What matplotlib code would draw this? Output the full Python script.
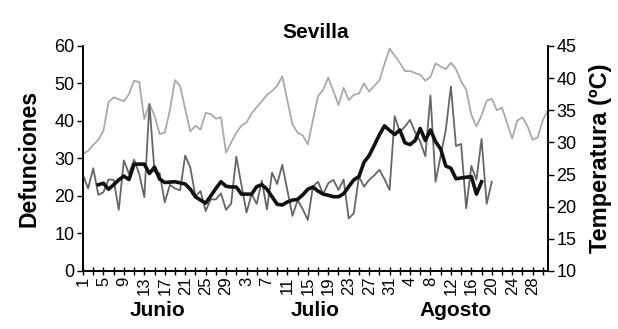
import matplotlib
matplotlib.use("Agg")
import matplotlib.pyplot as plt
import numpy as np

plt.rcParams['font.family'] = ['Liberation Sans', 'DejaVu Sans']

# dias del 1 de junio al 31 de agosto
dias_mes = [30, 31, 31]
meses = ["Junio", "Julio", "Agosto"]

# temperatura maxima diaria (ºC)
temperatura = [28.2, 28.7, 29.6, 30.4, 31.8, 36.3, 37.0, 36.7, 36.4, 37.5,
               39.6, 39.4, 33.6, 36.0, 34.2, 31.3, 31.5, 35.0, 39.7, 38.8,
               35.2, 31.7, 32.6, 32.0, 34.6, 34.4, 33.7, 33.9, 28.4, 30.0,
               31.5, 32.6, 33.1, 34.5, 35.5, 36.4, 37.4, 38.0, 38.8, 40.3,
               36.5, 32.8, 31.5, 31.1, 29.7, 33.5, 37.2, 38.2, 40.1, 38.0,
               35.8, 38.5, 36.6, 37.4, 37.6, 39.2, 37.9, 38.8, 39.6, 42.2,
               44.6, 43.5, 42.4, 41.1, 41.1, 40.8, 40.5, 39.6, 40.2, 42.3,
               41.8, 41.4, 42.4, 41.4, 39.5, 38.2, 34.3, 32.5, 34.2, 36.5,
               36.8, 35.0, 35.4, 33.0, 30.6, 33.4, 33.9, 32.5, 30.4, 30.8,
               33.5, 35.0]

# defunciones diarias (1 jun - 20 ago)
defunciones = [25.6, 22.0, 27.4, 20.3, 21.0, 24.4, 24.3, 16.3, 29.5, 25.9,
               29.7, 25.9, 19.7, 44.5, 26.4, 26.1, 18.3, 23.0, 22.0, 21.5,
               30.8, 27.6, 20.0, 21.3, 16.0, 19.1, 19.1, 20.7, 16.3, 18.0,
               30.5, 23.0, 15.6, 20.5, 17.9, 24.1, 16.4, 26.2, 23.2, 28.3,
               21.5, 14.7, 18.9, 16.5, 13.6, 22.5, 23.8, 20.5, 23.4, 24.3,
               21.6, 24.4, 14.0, 15.4, 25.2, 22.5, 24.3, 25.5, 27.0, 24.5,
               21.6, 41.3, 37.1, 38.5, 40.3, 37.0, 34.5, 30.6, 46.8, 23.8,
               30.7, 37.6, 49.2, 33.3, 33.9, 16.7, 28.0, 24.3, 35.2, 17.9,
               23.8]

# media movil de defunciones (4 jun - 18 ago)
media_inicio = 3
media_movil = [23.0, 23.4, 21.8, 23.0, 24.3, 25.3, 24.4, 28.5, 28.5, 28.5,
               26.0, 27.7, 24.5, 23.6, 23.7, 23.8, 23.5, 23.2, 21.8, 19.8,
               18.9, 18.1, 20.0, 22.0, 23.8, 22.6, 22.4, 22.4, 20.5, 20.5,
               20.5, 22.5, 23.0, 21.8, 19.8, 17.8, 17.6, 18.4, 18.9, 19.1,
               20.3, 21.8, 22.4, 21.3, 20.5, 20.2, 19.8, 19.8, 20.6, 22.5,
               24.3, 25.2, 29.0, 30.8, 33.5, 36.3, 38.7, 37.5, 36.4, 37.6,
               34.2, 33.7, 34.8, 38.0, 34.8, 37.6, 34.5, 32.5, 28.0, 27.4,
               24.6, 24.8, 25.0, 25.2, 20.5, 23.8]

# etiquetas del eje x: dia del mes
dia_num = []
for n in dias_mes:
    dia_num += list(range(1, n + 1))
x_t = np.arange(len(temperatura))
x_d = np.arange(len(defunciones))
x_m = np.arange(media_inicio, media_inicio + len(media_movil))

fig = plt.figure(figsize=(6.18, 3.29), dpi=100)
ax1 = fig.add_axes([0.1343, 0.1763, 0.7524, 0.6839])
ax2 = ax1.twinx()
ax1.set_zorder(ax2.get_zorder() + 1)
ax1.patch.set_visible(False)

ax2.plot(x_t, temperatura, color='#aaaaaa', lw=1.3)
ax1.plot(x_d, defunciones, color='#666666', lw=1.3)
ax1.plot(x_m, media_movil, color='#111111', lw=2.6)

ax1.set_xlim(0, len(temperatura) - 1)
ax1.set_ylim(0, 60)
ax2.set_ylim(10, 45)
ax1.set_yticks(range(0, 61, 10))
ax2.set_yticks(range(10, 46, 5))

ticks = list(range(0, len(dia_num), 2))
ax1.set_xticks(ticks)
ax1.set_xticklabels([str(dia_num[i]) if i % 4 == 0 else '' for i in ticks],
                    rotation=90, fontsize=12)
ax1.tick_params(axis='x', direction='inout', length=6, width=1, pad=1)
ax1.tick_params(axis='y', direction='out', length=4, width=1, labelsize=13, pad=2)
ax2.tick_params(axis='y', direction='out', length=4, width=1, labelsize=13, pad=2)

for ax in (ax1, ax2):
    ax.spines['top'].set_visible(False)
    for s in ('left', 'right', 'bottom'):
        ax.spines[s].set_linewidth(1.2)

ax1.set_title("Sevilla", fontsize=15, fontweight='bold', pad=6)
ax1.set_ylabel("Defunciones", fontsize=16.5, fontweight='bold', labelpad=10)
ax2.set_ylabel("Temperatura (ºC)", fontsize=17, fontweight='bold', labelpad=9)

# nombre del mes bajo el eje
pos_mes = [14.5, 45.5, 73]
for nombre, xm in zip(meses, pos_mes):
    ax1.text(xm, -0.135, nombre, transform=ax1.get_xaxis_transform(),
             ha='center', va='top', fontsize=15, fontweight='bold')

fig.savefig("out.png", dpi=100)
